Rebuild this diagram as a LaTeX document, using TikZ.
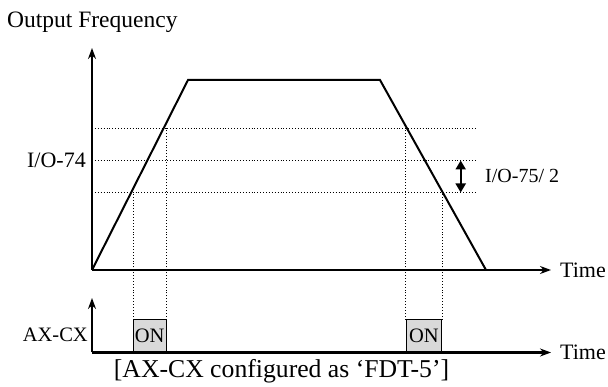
\documentclass[tikz,border=0pt]{standalone}
\usepackage{fontspec}
\setmainfont{Liberation Serif}
\usetikzlibrary{arrows.meta}
\begin{document}
\begin{tikzpicture}[x=1pt,y=-1pt,
  axis/.style={line width=2.4pt,-{Stealth[length=11pt,width=8pt]}},
  curve/.style={line width=2pt,line join=miter},
  guide/.style={line width=0.9pt,dotted},
  onbox/.style={draw,line width=1pt,fill=black!15,minimum width=32.5pt,minimum height=32pt,inner sep=0pt,anchor=south west},
  lbl/.style={inner sep=0pt,font=\fontsize{22}{24}\selectfont}]
\useasboundingbox (0,0) rectangle (608,387);
% main axes
\coordinate (O) at (92,270);
\coordinate (Ytop) at (92,48);
\coordinate (Xend) at (551,270);
\draw[axis] (O) -- (Ytop);
\draw[axis] (O) -- (Xend);
\node[lbl,anchor=west,font=\fontsize{23.5}{26}\selectfont] (of) at (7,22) {Output Frequency};
\node[lbl,anchor=west] (t1) at (560,270) {Time};
% trapezoid
\coordinate (A) at (188,80);
\coordinate (B) at (380,80);
\coordinate (C) at (486,270);
\draw[curve] (O) -- (A) -- (B) -- (C);
% levels
\coordinate (L1a) at (92,128); \coordinate (L1b) at (476,128);
\coordinate (L2a) at (92,160.5); \coordinate (L2b) at (476,160.5);
\coordinate (L3a) at (92,192.5); \coordinate (L3b) at (476,192.5);
\draw[guide] (L1a) -- (L1b);
\draw[guide] (L2a) -- (L2b);
\draw[guide] (L3a) -- (L3b);
\node[lbl,anchor=east] (io74) at (86,160.5) {I/O-74};
% hysteresis arrow
\coordinate (H1) at (460.7,160.5);
\coordinate (H2) at (460.7,192.5);
\draw[line width=2.4pt,{Triangle[length=9pt,width=10pt]}-{Triangle[length=9pt,width=10pt]}] (H1) -- (H2);
\node[lbl,anchor=west,font=\fontsize{20}{22}\selectfont] (io75) at (485,176) {I/O-75/ 2};
% lower axes
\coordinate (O2) at (92,352.5);
\coordinate (Y2top) at (92,298);
\coordinate (X2end) at (551,352.5);
\node[onbox] (on1) at (133,352.5) {\fontsize{20.5}{22}\selectfont ON};
\node[onbox,minimum width=35.5pt] (on2) at (405.7,352.5) {\fontsize{20.5}{22}\selectfont ON};
\draw[axis] (O2) -- (Y2top);
\draw[axis] (O2) -- (X2end);
\node[lbl,anchor=west] (t2) at (560,352.5) {Time};
\node[lbl,anchor=east,font=\fontsize{20.5}{22}\selectfont] (axcx) at (88,335) {AX-CX};
% vertical guides
\draw[guide] (on1.north west) -- (on1.north west |- L3a);
\draw[guide] (on1.north east) -- (on1.north east |- L1a);
\draw[guide] (on2.north west) -- (on2.north west |- L1a);
\draw[guide] (on2.north east) -- (on2.north east |- L3a);
\node[lbl,font=\fontsize{25.7}{28}\selectfont] (cap) at (281.5,371) {[AX-CX configured as ‘FDT-5’]};
\end{tikzpicture}
\end{document}
